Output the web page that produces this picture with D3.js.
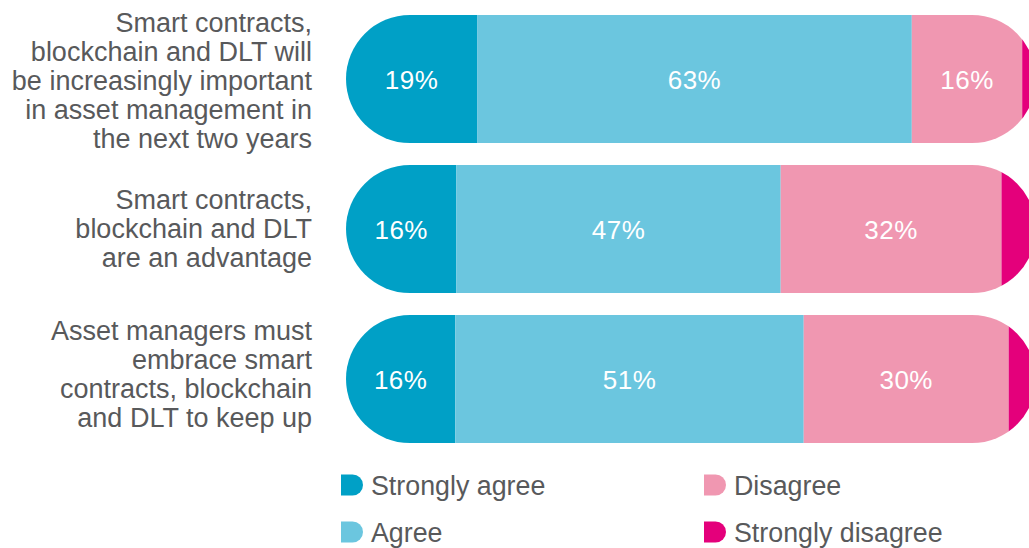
<!DOCTYPE html>
<html>
<head>
<meta charset="utf-8">
<script src="https://cdn.jsdelivr.net/npm/d3@7/dist/d3.min.js"></script>
<style>
  html, body { margin: 0; padding: 0; background: #fff; }
  svg { display: block; font-family: "Liberation Sans", Arial, Helvetica, sans-serif; }
</style>
</head>
<body>
<svg id="chart" width="1029" height="548"></svg>
<script>
// Survey statements (one line of text per array entry)
const statements = [
  ["Smart contracts,", "blockchain and DLT will", "be increasingly important", "in asset management in", "the next two years"],
  ["Smart contracts,", "blockchain and DLT", "are an advantage"],
  ["Asset managers must", "embrace smart", "contracts, blockchain", "and DLT to keep up"]
];
const responses = ["Strongly agree", "Agree", "Disagree", "Strongly disagree"];
const stronglyAgree    = [19, 16, 16];
const agree            = [63, 47, 51];
const disagree         = [16, 32, 30];
const stronglyDisagree = [2, 5, 4];
const labelledResponses = ["Strongly agree", "Agree", "Disagree"];

const colors = ["#00A0C6", "#6BC6DF", "#F097B1", "#E4007B"];
const textGray = "#58595B";

const rows = statements.map((s, i) => ({
  id: i,
  "Strongly agree": stronglyAgree[i],
  "Agree": agree[i],
  "Disagree": disagree[i],
  "Strongly disagree": stronglyDisagree[i]
}));

const svg = d3.select("#chart");

// Each row is shown as shares of its own total
const series = d3.stack().keys(responses).offset(d3.stackOffsetExpand)(rows);

const x = d3.scaleLinear().domain([0, 1]).range([346, 1036]);
const y = d3.scaleBand().domain(rows.map(d => d.id)).range([15, 443])
  .paddingInner(22 / 150).paddingOuter(0);
const color = d3.scaleOrdinal().domain(responses).range(colors);

const bh = y.bandwidth();
const radius = bh / 2;

// Pill-shaped clip for each bar
const defs = svg.append("defs");
rows.forEach(d => {
  defs.append("clipPath").attr("id", "pill-" + d.id)
    .append("rect")
    .attr("x", x(0)).attr("y", y(d.id))
    .attr("width", x(1) - x(0)).attr("height", bh)
    .attr("rx", radius).attr("ry", radius);
});

const barGroups = svg.append("g").selectAll("g.bar")
  .data(rows).join("g")
  .attr("class", "bar")
  .attr("clip-path", d => `url(#pill-${d.id})`);

barGroups.selectAll("rect")
  .data(d => series.map(s => ({ key: s.key, seg: s[d.id], id: d.id })))
  .join("rect")
  .attr("x", d => x(d.seg[0]))
  .attr("y", d => y(d.id))
  .attr("width", d => x(d.seg[1]) - x(d.seg[0]))
  .attr("height", bh)
  .attr("fill", d => color(d.key));

// Percentage labels inside the segments
const valueLabels = [];
series.forEach(s => {
  if (!labelledResponses.includes(s.key)) return;
  s.forEach((seg, i) => {
    valueLabels.push({ key: s.key, seg, id: i, value: seg.data[s.key] });
  });
});
svg.append("g").selectAll("text")
  .data(valueLabels).join("text")
  .attr("x", d => (x(d.seg[0]) + x(d.seg[1])) / 2)
  .attr("y", d => y(d.id) + bh / 2 + 9.5)
  .attr("text-anchor", "middle")
  .attr("fill", "#fff")
  .attr("font-size", 26)
  .attr("letter-spacing", 0.5)
  .text(d => d.value + "%");

// Statement labels, right-aligned to the left of the bars
const lineHeight = 29;
const labelNudge = [3, 1, -4];
const labels = svg.append("g").selectAll("text")
  .data(statements).join("text")
  .attr("text-anchor", "end")
  .attr("fill", textGray)
  .attr("font-size", 27)
  .attr("y", (d, i) => y(i) + bh / 2 + 8 - (d.length - 1) * lineHeight / 2 + labelNudge[i]);
labels.selectAll("tspan")
  .data(d => d).join("tspan")
  .attr("x", 312)
  .attr("dy", (d, i) => i === 0 ? 0 : lineHeight)
  .text(d => d);

// Legend: two columns, two rows
const legendCols = [341, 704];
const legendRows = [485, 532];
const sw = 22, sh = 21, sr = sh / 2;
const legend = svg.append("g").selectAll("g")
  .data(responses).join("g")
  .attr("transform", (d, i) => `translate(${legendCols[Math.floor(i / 2)]},${legendRows[i % 2]})`);
legend.append("path")
  .attr("d", `M0,${-sh / 2} H${sw - sr} A${sr},${sr} 0 0 1 ${sw - sr},${sh / 2} H0 Z`)
  .attr("fill", d => color(d));
legend.append("text")
  .attr("x", 30)
  .attr("y", 9.5)
  .attr("fill", textGray)
  .attr("font-size", 26.8)
  .text(d => d);
</script>
</body>
</html>
